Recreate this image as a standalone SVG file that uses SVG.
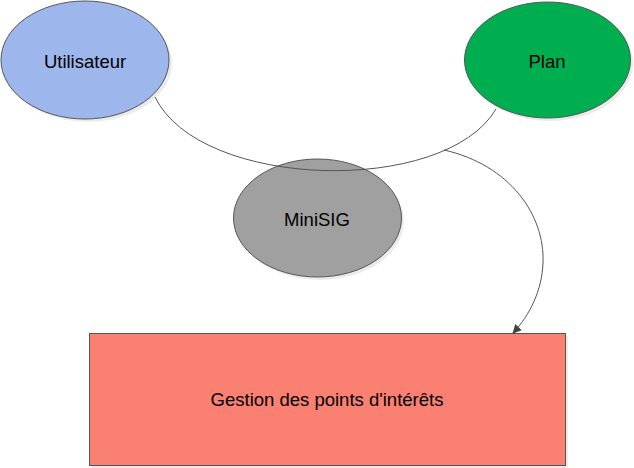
<svg xmlns="http://www.w3.org/2000/svg" width="634" height="468" viewBox="0 0 634 468">
<style>
.node{stroke:#555;stroke-width:1}
.shadow{fill:#000;opacity:0.08}
.lbl{font-family:"Liberation Sans",Arial,sans-serif;font-size:18.5px;fill:#000;text-anchor:middle;dominant-baseline:central}
.edge{fill:none;stroke:#555;stroke-width:1}
</style>
<defs>
<marker id="arr" viewBox="0 0 10 10" refX="9" refY="5" markerWidth="9" markerHeight="9" orient="auto" markerUnits="userSpaceOnUse">
<path d="M0,0 L10,5 L0,10 Z" fill="#444"/>
</marker>
</defs>
<rect width="634" height="468" fill="#fff"/>
<g id="utilisateur">
<ellipse class="shadow" cx="88" cy="63" rx="84" ry="59"/>
<ellipse class="node" cx="85" cy="60" rx="84" ry="59" fill="#9DB6EC"/>
<text class="lbl" x="85" y="61">Utilisateur</text>
</g>
<g id="plan">
<ellipse class="shadow" cx="550" cy="63" rx="83" ry="58"/>
<ellipse class="node" cx="547.5" cy="60" rx="83" ry="58" fill="#00AE50"/>
<text class="lbl" x="547" y="61">Plan</text>
</g>
<g id="minisig">
<ellipse class="shadow" cx="320" cy="221" rx="84" ry="59"/>
<ellipse class="node" cx="317.5" cy="218" rx="84" ry="59" fill="#A0A0A0"/>
<text class="lbl" x="317" y="219">MiniSIG</text>
</g>
<g id="gestion">
<rect class="shadow" x="92" y="336" width="476" height="132"/>
<rect class="node" x="89.5" y="333.5" width="476" height="132" fill="#FA8072"/>
<text class="lbl" x="327" y="399">Gestion des points d'intérêts</text>
</g>
<g id="connectors">
<path class="edge" d="M155,97 C200,190 445,196 496,109"/>
<path class="edge" d="M444,150 C510,165 545,215 543,263 C542,290 530,315 513,333" marker-end="url(#arr)"/>
</g>
</svg>
